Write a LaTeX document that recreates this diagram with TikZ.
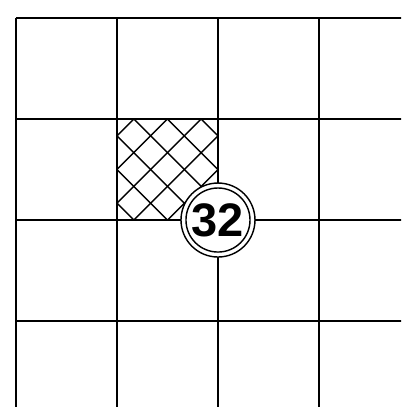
\documentclass[tikz,border=0pt]{standalone}
\usepackage{fontspec}
\setmainfont{Liberation Sans}

\begin{document}
\begin{tikzpicture}[x=2cm,y=2cm]
    \useasboundingbox (-0.158,-3.851) rectangle (3.812,0.178);
    \clip (-0.158,-3.851) rectangle (3.812,0.178);

    % Crosshatched cell
    \begin{scope}
        \clip (1,-2) rectangle (2,-1);
        \foreach \i in {0,...,5} {
            \draw[line width=0.8pt] ({\i/3-5/6},-3) -- ({\i/3+13/6},0);
            \draw[line width=0.8pt] ({\i/3-5/6},0) -- ({\i/3+13/6},-3);
        }
    \end{scope}

    % Draw grid
    \draw[line width=0.95pt, step=2cm] (0,-4) grid (4,0);

    % Numbered marker
    \node (mark) at (2,-2) [circle, draw, fill=white, line width=0.8pt, minimum size=1.465cm, inner sep=0pt,
        font=\bfseries\fontsize{26.5}{26.5}\selectfont] {32};
    \draw[line width=0.8pt] (mark.center) circle (0.634cm);
\end{tikzpicture}
\end{document}
